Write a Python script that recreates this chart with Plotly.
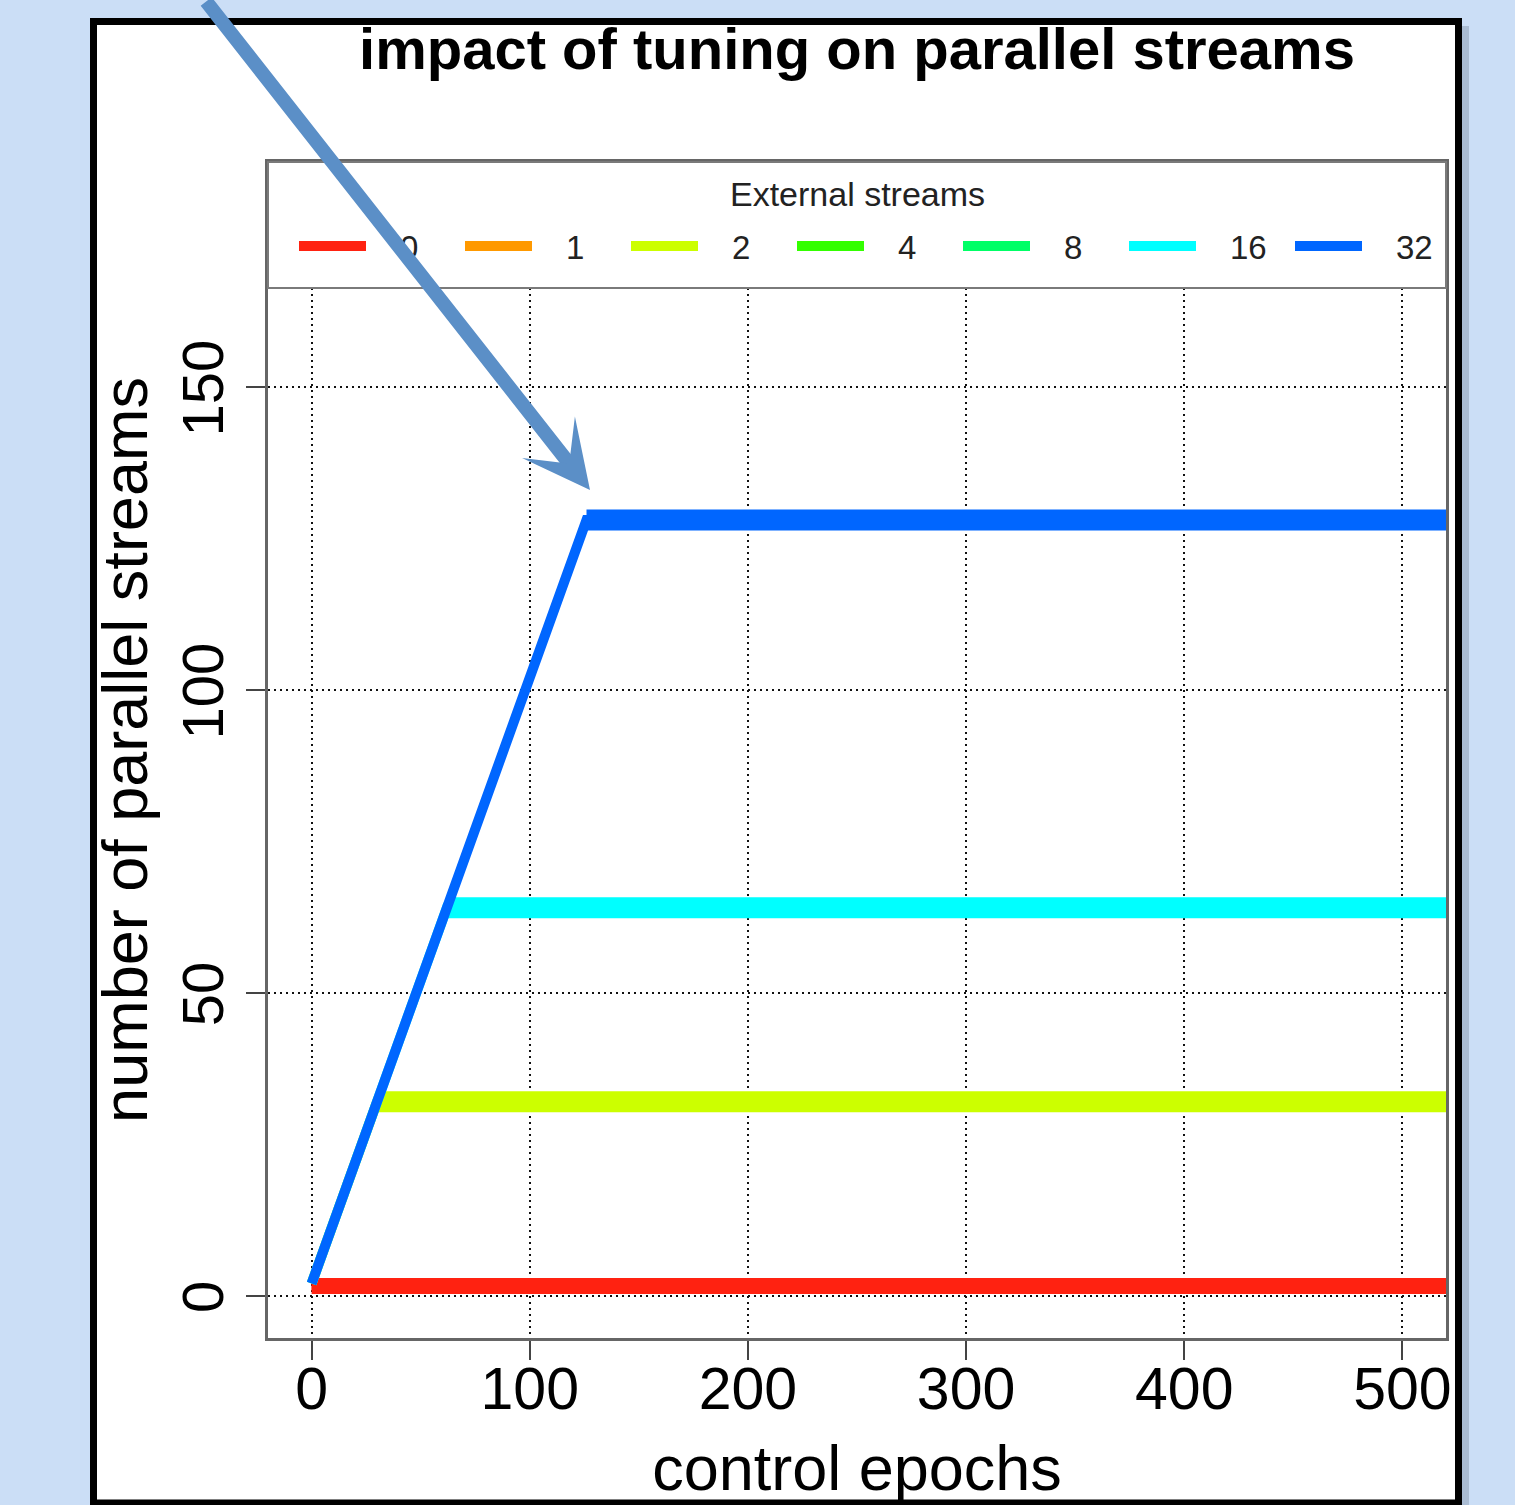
import plotly.graph_objects as go

# ---------------- data ----------------
series_names = ["0", "1", "2", "4", "8", "16", "32"]
series_colors = ["#FF2211", "#FF9900", "#CCFF00", "#33FF00", "#00FF66", "#00FFFF", "#0066FF"]

# vertices (control epoch, number of parallel streams) of each series
epochs_0 = [0, 525]
streams_0 = [1.6, 1.6]
epochs_1 = []
streams_1 = []
epochs_2 = [0, 30, 525]
streams_2 = [2, 32, 32]
epochs_4 = []
streams_4 = []
epochs_8 = []
streams_8 = []
epochs_16 = [0, 62, 525]
streams_16 = [2, 64, 64]
epochs_32 = [0, 126, 525]
streams_32 = [2, 128, 128]

x_ticks = [0, 100, 200, 300, 400, 500]
y_ticks = [0, 50, 100, 150]

title_text = "impact of tuning on parallel streams"
x_title = "control epochs"
y_title = "number of parallel streams"
legend_title = "External streams"

series_x = [epochs_0, epochs_1, epochs_2, epochs_4, epochs_8, epochs_16, epochs_32]
series_y = [streams_0, streams_1, streams_2, streams_4, streams_8, streams_16, streams_32]

# ---------------- geometry helpers (layout only) ----------------
W, H = 1515, 1505
PL, PR, PT, PB = 268, 1446, 162, 1338


def px_x(px):
    return (px - PL) / (PR - PL)


def px_y(py):
    return (PB - py) / (PB - PT)


FONT = "Liberation Sans, Arial, sans-serif"

fig = go.Figure()

for name, color, xs, ys in zip(series_names, series_colors, series_x, series_y):
    if not xs:
        continue
    # rising part drawn as a thinner line
    fig.add_trace(go.Scatter(x=xs, y=ys, mode="lines", name=name,
                             line=dict(color=color, width=10),
                             showlegend=False, hoverinfo="skip"))
    # plateau drawn thick
    fig.add_trace(go.Scatter(x=xs[-2:], y=ys[-2:], mode="lines", name=name,
                             line=dict(color=color, width=16 if name == "0" else 21),
                             showlegend=False, hoverinfo="skip"))

shapes = []
# white framed panel
shapes.append(dict(type="rect", xref="paper", yref="paper", layer="below",
                   x0=px_x(93.5), x1=px_x(1458.5), y0=px_y(1503), y1=px_y(21.5),
                   fillcolor="white", line=dict(color="black", width=7)))
# shadow to the right of the panel
shapes.append(dict(type="rect", xref="paper", yref="paper", layer="below",
                   x0=px_x(1462), x1=px_x(1469), y0=px_y(1505), y1=px_y(26),
                   fillcolor="rgba(110,125,145,0.35)", line=dict(width=0)))
# legend box
shapes.append(dict(type="rect", xref="paper", yref="paper", layer="above",
                   x0=0, x1=1, y0=px_y(288), y1=1,
                   fillcolor="white", line=dict(color="#7a7a7a", width=2)))

annotations = []
annotations.append(dict(text=legend_title, xref="paper", yref="paper",
                        x=0.5, y=px_y(194), showarrow=False,
                        xanchor="center", yanchor="middle",
                        font=dict(family=FONT, size=34, color="#222222")))
spacing = 166
for i, (name, color) in enumerate(zip(series_names, series_colors)):
    x0 = 297 + spacing * i
    shapes.append(dict(type="line", xref="paper", yref="paper", layer="above",
                       x0=px_x(x0 + 2), x1=px_x(x0 + 69), y0=px_y(246), y1=px_y(246),
                       line=dict(color=color, width=10)))
    annotations.append(dict(text=name, xref="paper", yref="paper",
                            x=px_x(x0 + 101), y=px_y(247), showarrow=False,
                            xanchor="left", yanchor="middle",
                            font=dict(family=FONT, size=33, color="#222222")))

# pointing arrow
annotations.append(dict(text="", xref="paper", yref="paper",
                        x=px_x(590), y=px_y(490), ax=-385, ay=-500,
                        showarrow=True, arrowhead=3, arrowwidth=14, arrowsize=0.8,
                        arrowcolor="#5b8fc7", standoff=0))

fig.update_layout(
    width=W, height=H,
    margin=dict(l=PL, r=W - PR, t=PT, b=H - PB, autoexpand=False),
    paper_bgcolor="#cbdef6",
    plot_bgcolor="white",
    title=dict(text=title_text, xref="paper", x=0.5, xanchor="center",
               yref="container", y=1 - 49 / H, yanchor="middle",
               font=dict(family=FONT, size=58, color="black", weight="bold")),
    shapes=shapes,
    annotations=annotations,
    showlegend=False,
)

fig.update_xaxes(
    range=[-20, 520], tickvals=x_ticks, ticktext=[str(v) for v in x_ticks],
    showgrid=True, gridcolor="#111111", gridwidth=2, griddash="2px,4px",
    zeroline=False, showline=True, mirror=True, linecolor="#666666", linewidth=2.5,
    ticks="outside", ticklen=19, tickwidth=2, tickcolor="#444444",
    ticklabelstandoff=-22,
    tickfont=dict(family=FONT, size=59, color="black"),
    title=dict(text=x_title, font=dict(family=FONT, size=63, color="black"), standoff=26),
)
fig.update_yaxes(
    range=[-7.0, 187.1], tickvals=y_ticks, ticktext=[str(v) for v in y_ticks],
    showgrid=True, gridcolor="#111111", gridwidth=2, griddash="2px,4px",
    zeroline=False, showline=True, mirror=True, linecolor="#666666", linewidth=2.5,
    ticks="outside", ticklen=19, tickwidth=2, tickcolor="#444444", tickangle=-90,
    ticklabelshift=10,
    tickfont=dict(family=FONT, size=58, color="black"),
    title=dict(text=y_title, font=dict(family=FONT, size=63, color="black"), standoff=2),
)

fig.write_html("out.html")
